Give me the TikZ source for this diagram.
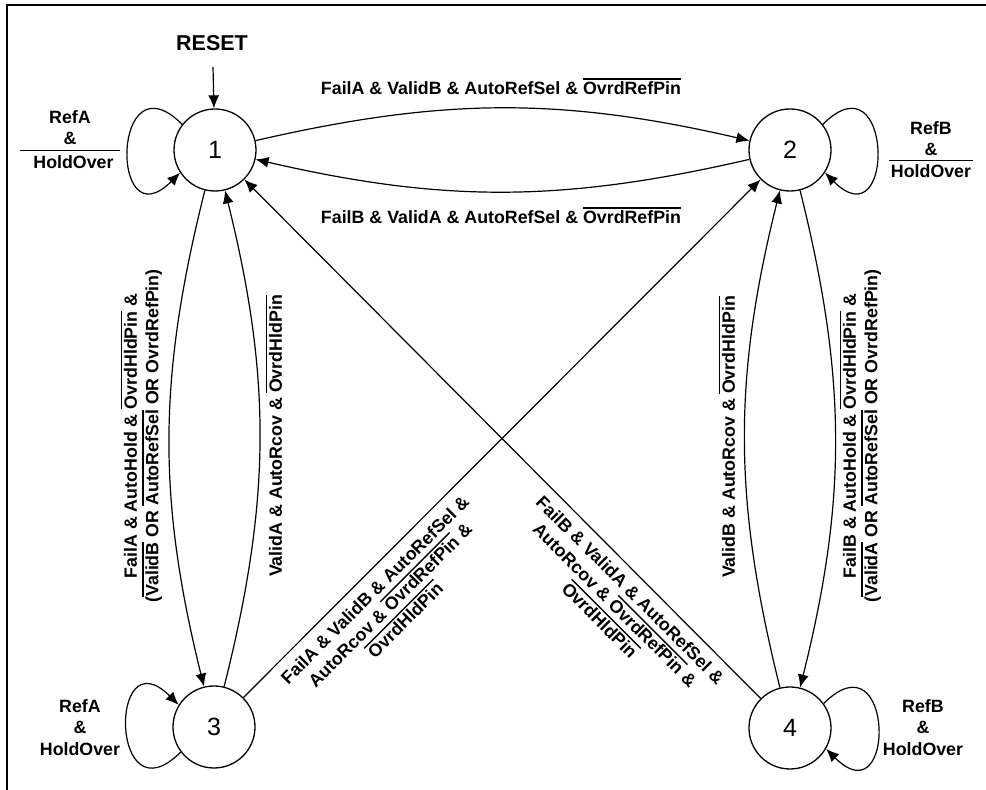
\documentclass[tikz,border=0pt]{standalone}
\usepackage{fontspec}
\setmainfont{Liberation Sans}
\usetikzlibrary{arrows.meta}
\newcommand{\ovlx}[2]{\vbox{\hrule height 1.4pt\kern#1\hbox{#2}}}
\newcommand{\ovl}[1]{\ovlx{1.8pt}{#1}}
\begin{document}
\begin{tikzpicture}[x=1pt,y=1pt,
  lbl/.style={font=\fontsize{17.8}{21.5}\selectfont\bfseries, align=center, inner sep=0pt},
  st/.style={circle, draw, line width=1.3pt, minimum size=82pt, inner sep=0pt, font=\fontsize{25}{25}\selectfont},
  arr/.style={line width=1.2pt, -{Latex[length=13pt,width=11pt]}},
]
\useasboundingbox (0,0) rectangle (986,790);
\draw[line width=1.5pt] (7,-10) -- (7,785) -- (1000,785);

\node[st] (n1) at (215,640) {1};
\node[st] (n2) at (790,640) {2};
\node[st] (n3) at (214,63) {3};
\node[st] (n4) at (790,62) {4};

\node[lbl, font=\fontsize{21.5}{24}\selectfont\bfseries] (reset) at (212,747) {RESET};
\coordinate (rs) at (213,723);
\draw[arr] (rs) -- (n1);

\draw[arr] (n1) to[bend left=13] (n2);
\draw[arr] (n2) to[bend left=13] (n1);
\draw[arr] (n1) to[bend right=14] (n3);
\draw[arr] (n3) to[bend right=14] (n1);
\draw[arr] (n2) to[bend left=14] (n4);
\draw[arr] (n4) to[bend left=14] (n2);
\draw[arr] (n3) -- (n2);
\draw[arr] (n4) -- (n1);

\draw[arr] (n1.142) .. controls +(135:100) and +(225:100) .. (n1.213);
\draw[arr] (n2.38) .. controls +(45:100) and +(-45:100) .. (n2.327);
\draw[arr] (n3.217) .. controls +(225:100) and +(135:100) .. (n3.148);
\draw[arr] (n4.36) .. controls +(45:100) and +(-45:100) .. (n4.330);

\node[lbl, anchor=base] (t12) at (501,695.5) {FailA \& ValidB \& AutoRefSel \& \ovl{OvrdRefPin}};
\node[lbl, anchor=base] (t21) at (501,566.5) {FailB \& ValidA \& AutoRefSel \& \ovl{OvrdRefPin}};

\node[lbl, rotate=90] (t13) at (141.5,354) {FailA \& AutoHold \& \ovl{OvrdHldPin} \&\\(\ovl{ValidB} OR \ovl{AutoRefSel} OR OvrdRefPin)};
\node[lbl, rotate=90] (t31) at (274,354) {ValidA \& AutoRcov \& \ovl{OvrdHldPin}};
\node[lbl, rotate=90] (t42) at (727,353) {ValidB \& AutoRcov \& \ovl{OvrdHldPin}};
\node[lbl, rotate=90] (t24) at (860.5,354) {FailB \& AutoHold \& \ovl{OvrdHldPin} \&\\(\ovl{ValidA} OR \ovl{AutoRefSel} OR OvrdRefPin)};

\node[lbl, rotate=45] (t32) at (390,185) {FailA \& ValidB \& AutoRefSel \&\\AutoRcov \& \ovl{OvrdRefPin} \&\\\ovl{OvrdHldPin}};
\node[lbl, rotate=-45] (t41) at (615,185) {FailB \& ValidA \& AutoRefSel \&\\AutoRcov \& \ovl{OvrdRefPin} \&\\\ovl{OvrdHldPin}};

\node[lbl, anchor=base] (l1) at (70,621.5) {RefA\\\&\\[2pt]\ovlx{4.5pt}{\kern13pt HoldOver\kern6pt}};
\node[lbl, anchor=base] (l2) at (931,612.5) {RefB\\\&\\\ovlx{3.5pt}{\kern2pt HoldOver\kern2pt}};
\node[lbl, anchor=base] (l3) at (80,34.5) {RefA\\\&\\HoldOver};
\node[lbl, anchor=base] (l4) at (923,34.5) {RefB\\\&\\HoldOver};
\end{tikzpicture}
\end{document}
